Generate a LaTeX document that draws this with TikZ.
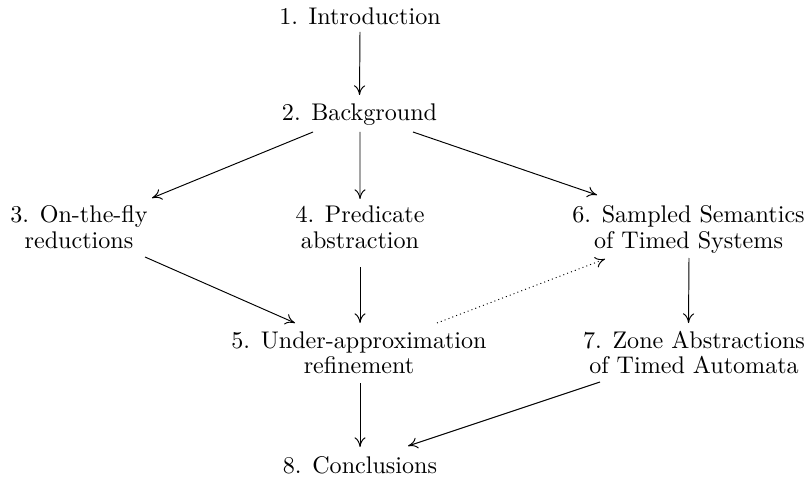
\documentclass[tikz,border=0pt]{standalone}
\usetikzlibrary{arrows.meta,calc}

% two centred lines whose baseline is the first line's baseline
\newcommand{\twolines}[2]{\vtop{\baselineskip=10.6pt\halign{\hfil##\hfil\cr #1\cr #2\cr}}}

\tikzset{
  chapter/.style={anchor=base, inner sep=0pt, font=\fontsize{10}{10.6}\selectfont},
  dep/.style={line width=0.4pt, -{Computer Modern Rightarrow[length=4pt,width=4.6pt]}},
  weakdep/.style={dep, dash pattern=on 0.4pt off 1.3pt}
}

\begin{document}
\begin{tikzpicture}[x=0.415pt, y=-0.415pt]
  \useasboundingbox (0,0) rectangle (811,477);

  % chapters
  \node[chapter] (n1) at (360,25)  {1. Introduction};
  \node[chapter] (n2) at (359.5,121) {2. Background};
  \node[chapter] (n3) at (79,223)  {\twolines{3. On-the-fly}{reductions}};
  \node[chapter] (n4) at (360,223) {\twolines{4. Predicate}{abstraction}};
  \node[chapter] (n6) at (688.5,223) {\twolines{6. Sampled Semantics}{of Timed Systems}};
  \node[chapter] (n5) at (359,348) {\twolines{5. Under-approximation}{refinement}};
  \node[chapter] (n7) at (694,348) {\twolines{7. Zone Abstractions}{of Timed Automata}};
  \node[chapter] (n8) at (360,473) {8. Conclusions};

  % dependencies
  \draw[dep] ($(n1.base)+(0,7)$)      -- ($(n2.base)+(0,-26)$);
  \draw[dep] ($(n2.base)+(-46.5,11)$) -- ($(n3.base)+(73,-25)$);
  \draw[dep] ($(n2.base)+(0.5,11)$)   -- ($(n4.base)+(0,-24)$);
  \draw[dep] ($(n2.base)+(53.5,11)$)  -- ($(n6.base)+(-91.5,-28)$);
  \draw[dep] ($(n3.base)+(66,34)$)    -- ($(n5.base)+(-64,-25)$);
  \draw[dep] ($(n4.base)+(0,44)$)     -- ($(n5.base)+(1,-25)$);
  \draw[weakdep] ($(n5.base)+(78,-25)$) -- ($(n6.base)+(-83.5,36)$);
  \draw[dep] ($(n6.base)+(0.5,35)$)   -- ($(n7.base)+(-5.5,-25)$);
  \draw[dep] ($(n5.base)+(1,35)$)     -- ($(n8.base)+(0,-26)$);
  \draw[dep] ($(n7.base)+(-94,34)$)   -- ($(n8.base)+(48,-27)$);
\end{tikzpicture}
\end{document}
